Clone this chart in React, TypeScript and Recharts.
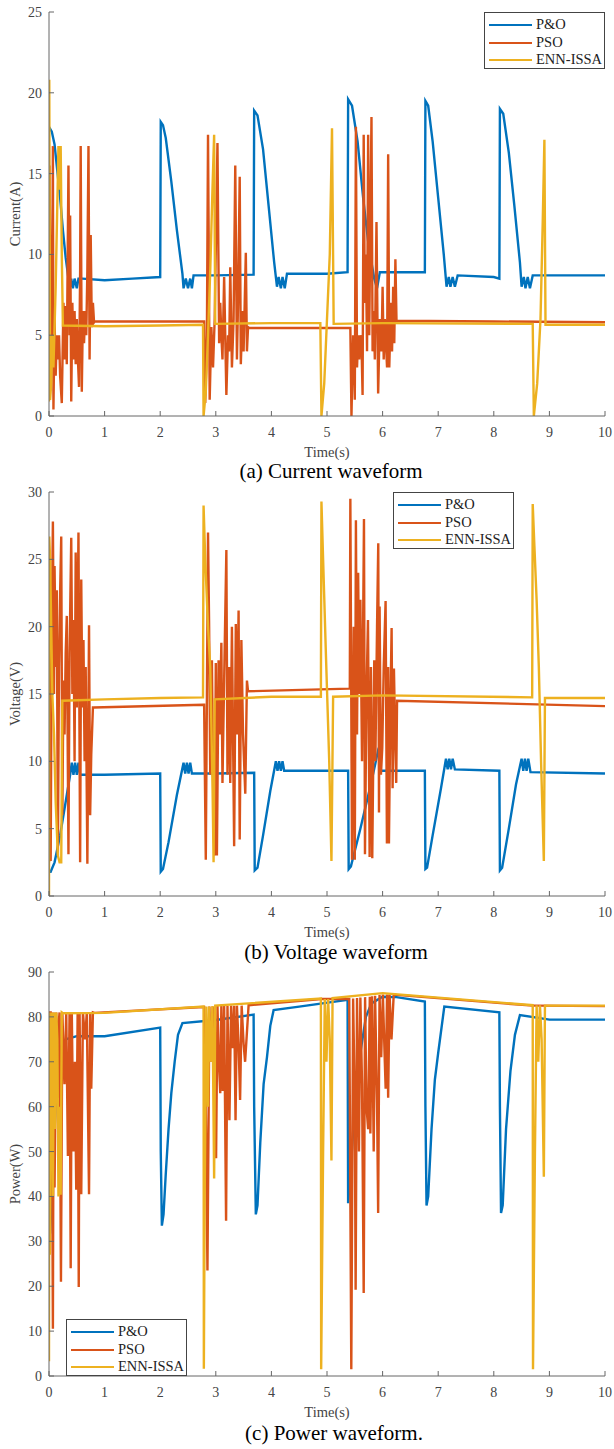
import React from "react";
import { Line, LineChart, XAxis, YAxis } from "recharts";

// [time (s), value] pairs for each controller
const currentPO = [
  [0, 17.9], [0.05, 17.6], [0.1, 16.8], [0.2, 13.5], [0.25, 11.5], [0.3, 9.8], [0.35, 8.5], [0.38, 8.0],
  [0.4, 8.5], [0.43, 7.9], [0.46, 8.5], [0.5, 7.9], [0.53, 8.5], [0.6, 8.5], [1.0, 8.4], [1.5, 8.5],
  [2.0, 8.6], [2.01, 18.2], [2.05, 18.0], [2.1, 17.2], [2.2, 14.5], [2.3, 11.5], [2.4, 8.8], [2.42, 7.9],
  [2.46, 8.5], [2.5, 7.9], [2.54, 8.5], [2.57, 7.9], [2.6, 8.7], [3.0, 8.7], [3.68, 8.75], [3.69, 18.9],
  [3.75, 18.6], [3.85, 16.5], [3.95, 13], [4.05, 9.5], [4.1, 8.0], [4.13, 8.6], [4.17, 7.9], [4.2, 8.6],
  [4.24, 7.9], [4.28, 8.8], [5.0, 8.8], [5.37, 8.9], [5.38, 19.6], [5.45, 19.2], [5.55, 17], [5.65, 13.5],
  [5.75, 10.5], [5.85, 8.5], [5.9, 7.9], [5.95, 8.9], [6.5, 8.9], [6.76, 8.9], [6.77, 19.5], [6.82, 19.2],
  [6.9, 17.0], [7.0, 13.5], [7.1, 10], [7.15, 8.0], [7.19, 8.6], [7.22, 8.0], [7.26, 8.6], [7.3, 8.0],
  [7.35, 8.7], [8.0, 8.6], [8.1, 8.5], [8.11, 19.0], [8.17, 18.7], [8.27, 16.3], [8.37, 13], [8.47, 9.5],
  [8.5, 8.0], [8.54, 8.6], [8.57, 7.9], [8.61, 8.6], [8.65, 7.9], [8.7, 8.7], [10, 8.7],
];

const currentPSO = [
  [0, 1.2], [0.01, 15.5], [0.03, 5], [0.05, 3], [0.07, 16.7], [0.08, 0.4], [0.1, 6], [0.12, 2.5],
  [0.14, 5], [0.16, 3.5], [0.18, 5], [0.2, 2.5], [0.23, 0.8], [0.26, 7], [0.28, 3.5], [0.3, 6.8],
  [0.32, 3.2], [0.35, 15.5], [0.37, 5], [0.38, 12.4], [0.4, 0.9], [0.42, 7], [0.44, 3.5], [0.46, 6.5],
  [0.48, 3.2], [0.5, 6], [0.52, 3.5], [0.54, 1.8], [0.56, 9], [0.57, 16.7], [0.59, 1.5], [0.61, 6.5],
  [0.63, 4.5], [0.65, 6.5], [0.67, 5], [0.69, 9], [0.71, 16.7], [0.73, 3.5], [0.75, 11.2], [0.77, 5.5],
  [0.79, 7], [0.81, 5.8], [0.82, 5.85], [2.0, 5.85], [2.79, 5.85],
  [2.81, 0.8], [2.84, 5], [2.86, 17.4], [2.89, 1.0], [2.92, 5.5], [2.95, 3], [2.98, 6], [3.03, 16.9],
  [3.06, 4.5], [3.08, 7], [3.1, 5], [3.12, 3.5], [3.15, 8.6], [3.19, 1.3], [3.22, 5], [3.24, 4],
  [3.26, 9.2], [3.29, 3], [3.32, 6], [3.35, 15.5], [3.38, 3.5], [3.4, 7], [3.43, 14.8], [3.45, 3.2],
  [3.48, 6.5], [3.5, 4], [3.52, 7], [3.54, 10.1], [3.56, 4], [3.58, 5.5], [3.6, 5.45], [5.42, 5.45],
  [5.44, 0], [5.47, 5], [5.49, 3], [5.5, 1.0], [5.52, 17.9], [5.54, 3], [5.56, 5], [5.58, 3.5],
  [5.6, 5], [5.62, 4.5], [5.64, 1.3], [5.66, 17.4], [5.68, 7], [5.7, 10], [5.72, 4], [5.74, 17.4],
  [5.76, 5], [5.78, 12], [5.8, 18.5], [5.82, 4], [5.84, 6.5], [5.86, 3.5], [5.89, 12], [5.92, 1.4],
  [5.95, 6], [5.98, 4], [6.0, 8], [6.02, 3.5], [6.04, 6], [6.06, 4.5], [6.08, 3], [6.1, 16.2],
  [6.12, 3], [6.15, 7], [6.17, 4], [6.19, 8], [6.21, 4.5], [6.23, 9.7], [6.25, 5.9], [8, 5.85], [10, 5.8],
];

const currentENN = [
  [0, 0.9], [0.005, 20.8], [0.02, 1.0], [0.04, 2], [0.06, 5], [0.08, 3], [0.12, 8], [0.17, 16.7],
  [0.19, 14], [0.21, 16.7], [0.23, 10], [0.25, 5.6], [1, 5.55], [2, 5.6], [2.77, 5.65], [2.78, 0],
  [2.82, 1.5], [2.86, 5], [2.9, 9], [2.94, 14], [2.97, 17.4], [2.99, 5.7], [4, 5.75], [4.88, 5.75],
  [4.9, 0], [4.95, 2], [5.0, 6], [5.05, 10], [5.09, 17.8], [5.12, 5.7], [6, 5.75], [8.7, 5.7],
  [8.72, 0], [8.78, 2], [8.84, 6], [8.88, 12], [8.91, 17.1], [8.93, 5.65], [10, 5.65],
];

const voltagePO = [
  [0, 1.8], [0.03, 1.8], [0.1, 2.5], [0.2, 4.5], [0.3, 7], [0.38, 9.0], [0.41, 9.9], [0.44, 9.0],
  [0.47, 9.9], [0.5, 9.0], [0.53, 9.9], [0.56, 9.0], [1, 9.0], [2.0, 9.1], [2.01, 1.8], [2.05, 2],
  [2.15, 4], [2.3, 7.5], [2.42, 9.9], [2.45, 9.1], [2.48, 9.9], [2.51, 9.1], [2.54, 9.9], [2.57, 9.1],
  [3, 9.1], [3.69, 9.15], [3.7, 1.9], [3.75, 2.1], [3.85, 4.5], [3.98, 7.8], [4.08, 10.0], [4.11, 9.3],
  [4.14, 10.0], [4.17, 9.3], [4.2, 10.0], [4.23, 9.3], [5, 9.3], [5.38, 9.3], [5.39, 2.0], [5.43, 2.2],
  [5.6, 5], [5.8, 8.5], [5.93, 11], [5.97, 9.3], [6.76, 9.3], [6.77, 2.0], [6.8, 2.1], [6.9, 4.5],
  [7.05, 8], [7.14, 10.2], [7.17, 9.4], [7.2, 10.2], [7.23, 9.4], [7.26, 10.2], [7.3, 9.4], [8.1, 9.3],
  [8.11, 1.9], [8.15, 2.1], [8.27, 5], [8.4, 8.3], [8.5, 10.2], [8.53, 9.3], [8.56, 10.2], [8.59, 9.3],
  [8.62, 10.2], [8.66, 9.2], [10, 9.1],
];

const voltagePSO = [
  [0, 2.5], [0.02, 22], [0.03, 2.6], [0.05, 20], [0.07, 27.8], [0.09, 15], [0.1, 24.5], [0.12, 17],
  [0.14, 22.7], [0.16, 3], [0.18, 17], [0.2, 22.5], [0.22, 26.7], [0.24, 6], [0.26, 16], [0.28, 12],
  [0.3, 18], [0.32, 20.8], [0.35, 3.1], [0.37, 18], [0.4, 26.6], [0.42, 15], [0.44, 20.5], [0.46, 10],
  [0.48, 25.5], [0.5, 14], [0.53, 27], [0.56, 2.5], [0.58, 23.5], [0.6, 14], [0.62, 19], [0.64, 10],
  [0.66, 17], [0.69, 2.4], [0.72, 20.1], [0.74, 6], [0.76, 10.5], [0.79, 14], [0.8, 14.0], [2.78, 14.2],
  [2.79, 14.2], [2.82, 2.7], [2.86, 27], [2.88, 20], [2.9, 9], [2.93, 17.5], [2.96, 5], [2.98, 3.0],
  [3.0, 17.3], [3.02, 3], [3.05, 17.5], [3.07, 12], [3.1, 18.8], [3.12, 8.4], [3.15, 16], [3.19, 25.7],
  [3.21, 9], [3.24, 17], [3.26, 8.4], [3.29, 20], [3.33, 3.7], [3.36, 20.2], [3.38, 12], [3.41, 21.2],
  [3.43, 4.2], [3.46, 19], [3.49, 12], [3.53, 7.6], [3.56, 16], [3.58, 15.2], [5.4, 15.4],
  [5.41, 15.4], [5.42, 29.5], [5.45, 2.7], [5.48, 20], [5.5, 2.7], [5.52, 27.9], [5.54, 12], [5.56, 24],
  [5.58, 15], [5.6, 22], [5.63, 10], [5.665, 28], [5.683, 3.1], [5.71, 15], [5.737, 20.5], [5.767, 2.9],
  [5.79, 17], [5.814, 2.8], [5.85, 17.5], [5.87, 10], [5.9, 20], [5.922, 26.2], [5.935, 6.2],
  [5.946, 21.5], [5.97, 9], [5.994, 11], [6.02, 17], [6.054, 21.9], [6.078, 3.9], [6.1, 17],
  [6.114, 3.9], [6.14, 14], [6.162, 19.9], [6.18, 8], [6.204, 16.9], [6.225, 12], [6.245, 8.4],
  [6.26, 14.5], [10, 14.1],
];

const voltageENN = [
  [0, 0], [0.005, 26.7], [0.02, 25], [0.04, 20], [0.06, 15], [0.09, 12], [0.12, 7], [0.16, 3],
  [0.19, 2.5], [0.22, 2.5], [0.24, 14.5], [1, 14.6], [2, 14.7], [2.77, 14.75], [2.78, 29], [2.81, 25],
  [2.86, 20], [2.9, 17], [2.94, 8.5], [2.96, 2.5], [2.98, 14.6], [4, 14.8], [4.89, 14.8], [4.9, 29.3],
  [4.93, 25], [4.98, 18], [5.04, 10], [5.08, 2.6], [5.11, 14.8], [6, 14.9], [8.69, 14.75], [8.7, 29.1],
  [8.73, 26], [8.77, 22], [8.81, 17], [8.85, 10], [8.9, 2.6], [8.92, 14.7], [10, 14.7],
];

const powerPO = [
  [0, 30], [0.02, 32], [0.05, 40], [0.1, 55], [0.15, 68], [0.2, 73], [0.3, 75], [0.5, 75.7], [1, 75.7],
  [2.0, 77.6], [2.01, 50], [2.03, 33.5], [2.06, 36], [2.1, 45], [2.15, 55], [2.2, 63], [2.26, 70],
  [2.32, 76], [2.4, 78.6], [3.0, 79.3], [3.68, 80.5], [3.69, 60], [3.72, 36], [3.75, 38], [3.8, 52],
  [3.86, 65], [3.92, 71], [3.98, 78], [4.04, 81.5], [4.5, 82.3], [5.37, 83.8], [5.38, 38.5], [5.42, 45],
  [5.5, 60], [5.6, 72], [5.7, 80], [5.8, 83], [6.0, 84.5], [6.25, 84.4], [6.76, 83.4], [6.77, 60],
  [6.79, 38], [6.82, 40], [6.88, 55], [6.94, 66], [7.0, 72], [7.11, 82.3], [8.1, 81.0], [8.11, 60],
  [8.13, 36.3], [8.16, 38], [8.22, 55], [8.3, 68], [8.38, 76], [8.47, 80.4], [9, 79.4], [10, 79.4],
];

const powerPSO = [
  [0, 52], [0.01, 81], [0.03, 81], [0.04, 54], [0.045, 81], [0.07, 10.5], [0.085, 81], [0.1, 42],
  [0.13, 81], [0.155, 62], [0.17, 78], [0.19, 81], [0.215, 21], [0.24, 81], [0.28, 65], [0.31, 81],
  [0.34, 49], [0.37, 81], [0.39, 24], [0.41, 81], [0.44, 50], [0.465, 70], [0.49, 41.5], [0.515, 81],
  [0.535, 19.8], [0.55, 81], [0.58, 40.5], [0.61, 81], [0.65, 75], [0.68, 81], [0.72, 40.5], [0.74, 81],
  [0.76, 64], [0.79, 81], [0.82, 80.9], [2.78, 82.2],
  [2.79, 82.2], [2.82, 60], [2.85, 23.5], [2.885, 82.3], [2.91, 70], [2.945, 82.3], [2.975, 65],
  [3.005, 48.5], [3.03, 82.4], [3.055, 70], [3.08, 63], [3.1, 82.4], [3.125, 63.5], [3.15, 82.4],
  [3.185, 34.6], [3.21, 82.4], [3.245, 57], [3.275, 82.5], [3.305, 73], [3.33, 82.5], [3.355, 57],
  [3.38, 82.5], [3.41, 74], [3.437, 61.5], [3.465, 82.5], [3.5, 74], [3.527, 70], [3.557, 76],
  [3.59, 82.6], [4.9, 84.0], [5.4, 84.0],
  [5.437, 1.5], [5.47, 84.1], [5.5, 60], [5.515, 19.2], [5.54, 84.2], [5.575, 50], [5.6, 84.3],
  [5.63, 65], [5.66, 18.5], [5.685, 84.4], [5.71, 60], [5.74, 55], [5.77, 84.5], [5.78, 54],
  [5.81, 84.6], [5.84, 50], [5.865, 84.7], [5.9, 61], [5.92, 36.3], [5.945, 84.9], [5.975, 71],
  [6.005, 85], [6.04, 70], [6.055, 64], [6.08, 85], [6.1, 62], [6.125, 85], [6.16, 75], [6.2, 85],
  [6.25, 84.9], [8.7, 82.5], [8.75, 82.5], [10, 82.4],
];

const powerENN = [
  [0, 3.3], [0.005, 81], [0.015, 27], [0.03, 60], [0.05, 81], [0.07, 40], [0.09, 81], [0.11, 55],
  [0.13, 81], [0.15, 75], [0.17, 40], [0.19, 60], [0.21, 40.4], [0.23, 81], [0.25, 80.8], [1, 80.9],
  [2.78, 82.3], [2.785, 1.6], [2.8, 40], [2.83, 82.3], [2.86, 60], [2.88, 82.3], [2.91, 70],
  [2.94, 82.4], [2.97, 44], [2.99, 82.5], [4.89, 84.1], [4.895, 1.5], [4.93, 50], [4.96, 84],
  [4.99, 70], [5.02, 84], [5.05, 75], [5.08, 48], [5.1, 84.2], [6.0, 85.3], [8.7, 82.6], [8.705, 1.5],
  [8.74, 50], [8.77, 82.6], [8.8, 70], [8.83, 82.6], [8.86, 75], [8.9, 44.4], [8.92, 82.5], [10, 82.5],
];

const timeTicks = [0, 1, 2, 3, 4, 5, 6, 7, 8, 9, 10];
const currentTicks = [0, 5, 10, 15, 20, 25];
const voltageTicks = [0, 5, 10, 15, 20, 25, 30];
const powerTicks = [0, 10, 20, 30, 40, 50, 60, 70, 80, 90];

const seriesNames = ["P&O", "PSO", "ENN-ISSA"];
const COLORS = ["#0072BD", "#D95319", "#EDB120"];
const FONT = "'Liberation Serif', 'Times New Roman', serif";
const AXIS = "#666";
const LABEL = "#444";

const toPts = (arr: number[][]) => arr.map(([t, y]) => ({ t, y }));

type Panel = {
  top: number;
  ticks: number[];
  series: number[][][];
  yLabel: string;
  caption: string;
  captionX: number;
  captionY: number;
  legend: { left: number; top: number; width: number };
};

const panels: Panel[] = [
  {
    top: 0,
    ticks: currentTicks,
    series: [currentPO, currentPSO, currentENN],
    yLabel: "Current(A)",
    caption: "(a) Current waveform",
    captionX: 331,
    captionY: 471,
    legend: { left: 484, top: 12, width: 121 },
  },
  {
    top: 480,
    ticks: voltageTicks,
    series: [voltagePO, voltagePSO, voltageENN],
    yLabel: "Voltage(V)",
    caption: "(b) Voltage waveform",
    captionX: 336,
    captionY: 952,
    legend: { left: 393, top: 492, width: 121 },
  },
  {
    top: 960,
    ticks: powerTicks,
    series: [powerPO, powerPSO, powerENN],
    yLabel: "Power(W)",
    caption: "(c) Power waveform.",
    captionX: 334,
    captionY: 1433,
    legend: { left: 66, top: 1319, width: 121 },
  },
];

const Txt = ({
  x,
  y,
  size,
  color = "#000",
  rotate = 0,
  children,
}: {
  x: number;
  y: number;
  size: number;
  color?: string;
  rotate?: number;
  children: React.ReactNode;
}) => (
  <div
    style={{
      position: "absolute",
      left: x,
      top: y,
      transform: `translate(-50%, -50%) rotate(${rotate}deg)`,
      fontFamily: FONT,
      fontSize: size,
      color,
      whiteSpace: "nowrap",
      lineHeight: 1,
    }}
  >
    {children}
  </div>
);

const legendRows = [3, 21, 38];

const LegendBox = ({ left, top, width }: { left: number; top: number; width: number }) => (
  <div
    style={{
      position: "absolute",
      left,
      top,
      width,
      height: 57,
      boxSizing: "border-box",
      border: "1px solid #444",
      background: "#fff",
    }}
  >
    {seriesNames.map((name, i) => (
      <div
        key={name}
        style={{ position: "absolute", left: 4, top: legendRows[i], height: 17, display: "flex", alignItems: "center" }}
      >
        <div style={{ width: 43, height: 2, background: COLORS[i] }} />
        <span style={{ marginLeft: 4, fontFamily: FONT, fontSize: 14.5, color: "#222" }}>{name}</span>
      </div>
    ))}
  </div>
);

const App = () => (
  <div
    style={{
      position: "absolute",
      left: 0,
      top: 0,
      width: 614,
      height: 1449,
      background: "#fff",
      fontFamily: FONT,
    }}
  >
    {panels.map((p) => {
      const yMax = p.ticks[p.ticks.length - 1];
      return (
        <React.Fragment key={p.yLabel}>
          <div style={{ position: "absolute", left: 0, top: p.top }}>
            <LineChart
              width={614}
              height={440}
              margin={{ top: 12, right: 9, bottom: 0, left: 0 }}
              style={{ fontFamily: FONT }}
            >
              <XAxis
                dataKey="t"
                type="number"
                domain={[0, 10]}
                ticks={timeTicks}
                height={24}
                stroke={AXIS}
                tickSize={-5}
                tickMargin={16}
                tick={{ fill: LABEL, fontSize: 14, fontFamily: FONT }}
                allowDataOverflow
              />
              <XAxis
                xAxisId="top"
                orientation="top"
                type="number"
                domain={[0, 10]}
                ticks={timeTicks}
                height={0}
                stroke={AXIS}
                tickSize={-5}
                tick={false}
              />
              <YAxis
                type="number"
                domain={[0, yMax]}
                ticks={p.ticks}
                width={49}
                stroke={AXIS}
                tickSize={-5}
                tickMargin={12}
                tick={{ fill: LABEL, fontSize: 14, fontFamily: FONT }}
                allowDataOverflow
              />
              <YAxis
                yAxisId="right"
                orientation="right"
                type="number"
                domain={[0, yMax]}
                ticks={p.ticks}
                width={0}
                stroke={AXIS}
                tickSize={-5}
                tick={false}
              />
              {p.series.map((s, i) => (
                <Line
                  key={seriesNames[i]}
                  data={toPts(s)}
                  dataKey="y"
                  name={seriesNames[i]}
                  type="linear"
                  stroke={COLORS[i]}
                  strokeWidth={2.4}
                  dot={false}
                  isAnimationActive={false}
                />
              ))}
            </LineChart>
          </div>
          <Txt x={15} y={p.top + 214} size={14.5} color={LABEL} rotate={-90}>
            {p.yLabel}
          </Txt>
          <Txt x={327} y={p.top + 452} size={14.5} color={LABEL}>
            Time(s)
          </Txt>
          <Txt x={p.captionX} y={p.captionY} size={21}>
            {p.caption}
          </Txt>
          <LegendBox {...p.legend} />
        </React.Fragment>
      );
    })}
  </div>
);

export default App;
